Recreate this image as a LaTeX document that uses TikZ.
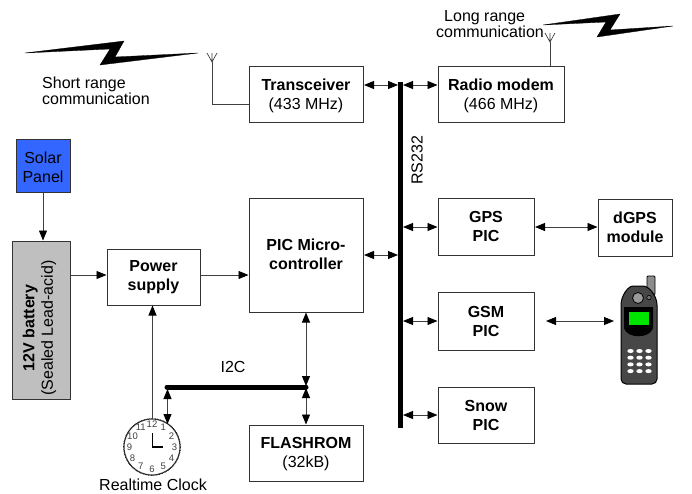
\documentclass[tikz,border=0pt]{standalone}
\usepackage{fontspec}
\setmainfont{Liberation Sans}
\usetikzlibrary{arrows.meta,calc}
\definecolor{boxline}{gray}{0.2}
\newcommand{\dropa}{\rule{0pt}{16pt}}
\newcommand{\dropb}{\rule{0pt}{14pt}}
\tikzset{
  x=1pt,y=-1pt,
  blk/.style={draw=boxline,line width=1pt,fill=white,inner sep=0pt,align=center,font=\fontsize{16}{19}\selectfont},
  lbl/.style={inner sep=0pt,align=left,font=\fontsize{16}{16}\selectfont},
  conn/.style={draw=black!75,line width=0.9pt,-{Triangle[length=10pt,width=8pt,black]}},
  biconn/.style={draw=black!75,line width=0.9pt,{Triangle[length=10pt,width=8pt,black]}-{Triangle[length=10pt,width=8pt,black]}},
  plain/.style={draw=black!75,line width=0.9pt},
  busline/.style={line width=5pt,black},
  bolt/.style={fill=black,draw=black,line width=0.3pt},
  num/.style={inner sep=0pt,font=\fontsize{9.5}{10}\selectfont,text=black!75},
}
\begin{document}
\begin{tikzpicture}
\useasboundingbox (0,0) rectangle (692,493);
% bus
\coordinate (bt) at (400.5,82);\coordinate (bb) at (400.5,428);
\draw[busline] (bt) -- (bb);
\node[lbl,rotate=90] (rs) at (417,160.5) {RS232};
% boxes
\node[blk,minimum width=114pt,minimum height=56pt] (tr) at (306,94) {\dropa\textbf{Transceiver}\\(433 MHz)};
\node[blk,minimum width=126pt,minimum height=56pt] (rm) at (501,94) {\dropa\textbf{Radio modem}\\(466 MHz)};
\node[blk,minimum width=54pt,minimum height=53pt,fill={rgb,255:red,51;green,102;blue,255}] (sp) at (43,165.5) {\dropa Solar\\Panel};
\node[blk,minimum width=58pt,minimum height=158pt,fill=black!25] (bat) at (41,320) {};
\node[inner sep=0pt,rotate=90,align=center,font=\fontsize{16}{18.5}\selectfont] (battext) at (39.5,328) {\textbf{12V battery}\\(Sealed Lead-acid)};
\node[blk,minimum width=93pt,minimum height=56pt] (ps) at (153.5,277) {\textbf{Power}\\\textbf{supply}};
\node[blk,minimum width=114pt,minimum height=114pt] (pic) at (306,255) {};
\node[inner sep=0pt,align=center,font=\fontsize{16}{19}\selectfont] (pictext) at (306,254.5) {\textbf{PIC Micro-}\\\textbf{controller}};
\node[blk,minimum width=114pt,minimum height=56pt] (fl) at (306,453) {\dropb\textbf{FLASHROM}\\(32kB)};
\node[blk,minimum width=96pt,minimum height=57pt] (gps) at (486,226.5) {\textbf{GPS}\\\textbf{PIC}};
\node[blk,minimum width=74pt,minimum height=57pt] (dg) at (635,227.5) {\textbf{dGPS}\\\textbf{module}};
\node[blk,minimum width=96pt,minimum height=58pt] (gsm) at (486,321) {\textbf{GSM}\\\textbf{PIC}};
\node[blk,minimum width=96pt,minimum height=56pt] (sn) at (486,415) {\textbf{Snow}\\\textbf{PIC}};
% labels
\node[lbl,anchor=west] (srt) at (42,91) {Short range\\communication};
\node[lbl,anchor=west] (lrt) at (436,24) {\hspace*{8pt}Long range\\communication};
\node[lbl] (i2c) at (233,367) {I2C};
\node[lbl] (rtc) at (153,484.5) {Realtime Clock};
% bolts
\fill[bolt] (25,53) -- (124,41) -- (115,57) -- (198,53) -- (100,65) -- (110,49) -- cycle;
\fill[bolt] (543,25) -- (620,14) -- (610,30) -- (673,26) -- (597,37) -- (606,22) -- cycle;
% antennas
\coordinate (a1) at (212,62);\coordinate (a2) at (550,42);
\draw[plain,line width=0.7pt] (207,53) -- (a1) -- (217,53) (a1) -- (212,53);
\draw[plain] (a1) -- (212,104) -- (tr.west |- 0,104);
\draw[plain,line width=0.7pt] (545,33) -- (a2) -- (555,33) (a2) -- (550,33);
\draw[plain] (a2) -- (rm.north -| a2);
% connectors
\draw[conn] (sp) -- (bat.north -| sp);
\draw[conn] (bat.east |- 0,275) -- (ps.west |- 0,275);
\draw[conn] (ps.east |- 0,275) -- (pic.west |- 0,275);
\draw[biconn] (364,85) -- (398,85);
\draw[biconn] (403,85) -- (rm.west |- 0,85);
\draw[biconn] (364,255) -- (398,255);
\draw[biconn] (403,227) -- (gps.west |- 0,227);
\draw[biconn] (535,227) -- (dg.west |- 0,227);
\draw[biconn] (403,321) -- (gsm.west);
\draw[biconn] (403,415) -- (sn.west);
\coordinate (pch) at (614,321);
\draw[biconn] (546,321) -- (pch);
% I2C
\coordinate (il) at (167,387);\coordinate (ir) at (306,387);
\draw[line width=5pt,line cap=round,black] (il) -- (ir);
\draw[biconn] (pic.south -| ir) -- ($(ir)+(0,-1)$);
\draw[biconn] ($(ir)+(0,1)$) -- (fl.north -| ir);
% clock
\coordinate (c) at (152,447);
\draw[black!80,line width=1.1pt,fill=white] (c) circle (28);
\draw[black,densely dotted,line width=0.6pt] (c) circle (28.5);
\draw[line width=1.4pt,black] (152.5,433) -- (152.5,447) -- (163,447);
\foreach \n/\a in {12/90,1/60,2/30,3/0,4/-30,5/-60,6/-90,7/-120,8/-150,9/180,10/150,11/120}{
  \node[num] (h\n) at ($(c)+({-\a}:22.5)$) {\n};
}
\coordinate (ct) at (152.5,419);
\draw[conn] (ct) -- (ps.south -| ct);
\draw[biconn] (167.5,389) -- (167.5,424);
% phone
\filldraw[fill=black!45,draw=black,line width=0.8pt,rounded corners=1pt] (647,290) -- (647,276) -- (655,276) -- (655,295) -- cycle;
\filldraw[fill=black!72,draw=black,line width=1pt,rounded corners=5pt] (621,310) .. controls (621,296) and (628,286) .. (638,286) .. controls (649,286) and (657,296) .. (657,310) -- (657,384) -- (621,384) -- cycle;
\fill[black] (624,307) -- (653,307) -- (653,328) .. controls (650,339) and (627,339) .. (624,328) -- cycle;
\fill[green!90!black] (629,312) rectangle (649,325);
\filldraw[fill=black!40,draw=black,line width=0.8pt] (638,298) circle (5.5);
\filldraw[fill=black!55,draw=black,line width=0.6pt] (649,297.5) circle (2.2);
\foreach \r in {0,1,2,3}\foreach \cl in {0,1,2}{
  \fill[white] ({630.5+\cl*9},{351+\r*6.7}) ellipse (3.2 and 2);
}
\end{tikzpicture}
\end{document}
